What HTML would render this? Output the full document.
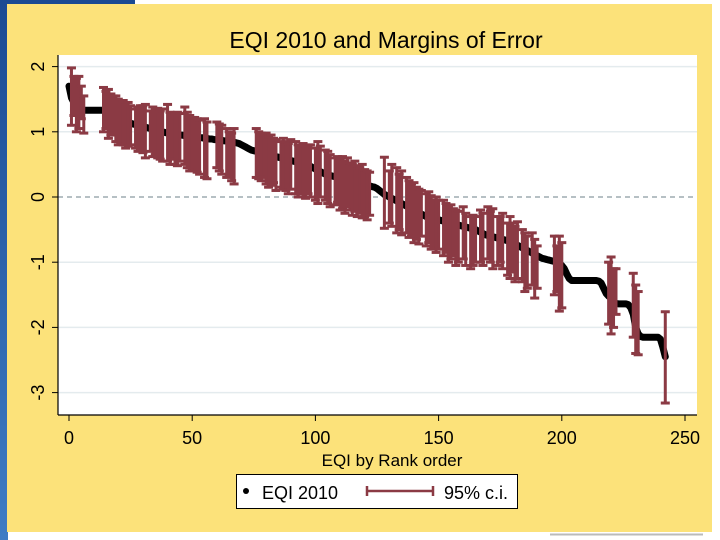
<!DOCTYPE html>
<html><head><meta charset="utf-8"><style>
html,body{margin:0;padding:0;background:#fff;width:720px;height:540px;overflow:hidden}
svg{display:block;font-family:"Liberation Sans",sans-serif}
</style></head><body>
<svg id="chart" width="720" height="540" viewBox="0 0 720 540">
<defs><linearGradient id="bl" x1="0" y1="0" x2="0" y2="1"><stop offset="0" stop-color="#1b4a93"/><stop offset="1" stop-color="#3f7cc4"/></linearGradient></defs>
<rect x="0" y="0" width="8" height="540" fill="url(#bl)"/>
<rect x="0" y="0" width="135" height="5" fill="#1b4a93"/>
<rect x="7" y="4" width="705" height="528" fill="#fce27a"/>
<line x1="550" y1="534.5" x2="703" y2="534.5" stroke="#bbb" stroke-width="2"/>
<rect x="58" y="55" width="639" height="360" fill="#fff"/>
<text x="386" y="48" font-size="23" text-anchor="middle" fill="#000">EQI 2010 and Margins of Error</text>
<g id="grid"></g><g id="line"></g><g id="ci"></g><g id="axes"></g>
<text x="392" y="466" font-size="17" text-anchor="middle">EQI by Rank order</text>
<g>
<rect x="236.5" y="474.5" width="281" height="34" fill="#fff" stroke="#000" stroke-width="1"/>
<circle cx="246" cy="491" r="3" fill="#000"/>
<text x="262" y="499" font-size="18">EQI 2010</text>
<g stroke="#8b3a44" stroke-width="2.5"><line x1="367" y1="491" x2="433" y2="491"/><line x1="367" y1="486" x2="367" y2="496"/><line x1="433" y1="486" x2="433" y2="496"/></g>
<text x="444" y="499" font-size="18">95% c.i.</text>
</g>
</svg>
<script>
const eqi = [
1.70,1.52,1.45,1.40,1.36,1.34,1.33,1.33,1.33,1.33,
1.33,1.33,1.33,1.33,1.33,1.33,1.33,1.32,1.30,1.27,
1.22,1.18,1.16,1.15,1.14,1.13,1.12,1.11,1.10,1.09,
1.08,1.07,1.06,1.05,1.04,1.03,1.02,1.01,1.00,0.99,
0.98,0.97,0.96,0.96,0.95,0.95,0.95,0.94,0.94,0.93,
0.93,0.92,0.92,0.91,0.91,0.90,0.90,0.89,0.89,0.88,
0.88,0.87,0.87,0.86,0.86,0.85,0.85,0.84,0.83,0.82,
0.80,0.78,0.76,0.74,0.72,0.71,0.70,0.69,0.68,0.67,
0.66,0.65,0.64,0.63,0.62,0.61,0.60,0.59,0.58,0.57,
0.56,0.55,0.54,0.53,0.52,0.51,0.50,0.49,0.47,0.45,
0.43,0.41,0.39,0.37,0.35,0.34,0.33,0.32,0.31,0.30,
0.29,0.28,0.27,0.26,0.25,0.24,0.23,0.22,0.21,0.20,
0.19,0.18,0.17,0.16,0.15,0.13,0.10,0.07,0.04,0.02,
0.00,-0.02,-0.04,-0.06,-0.08,-0.10,-0.12,-0.14,-0.16,-0.18,
-0.20,-0.22,-0.24,-0.26,-0.28,-0.30,-0.31,-0.32,-0.33,-0.34,
-0.35,-0.36,-0.37,-0.38,-0.39,-0.40,-0.41,-0.42,-0.43,-0.44,
-0.45,-0.46,-0.47,-0.48,-0.49,-0.50,-0.52,-0.54,-0.56,-0.58,
-0.59,-0.60,-0.61,-0.62,-0.63,-0.64,-0.65,-0.66,-0.67,-0.68,
-0.70,-0.72,-0.74,-0.76,-0.78,-0.80,-0.82,-0.84,-0.86,-0.88,
-0.90,-0.92,-0.94,-0.95,-0.96,-0.97,-0.98,-0.99,-1.00,-1.02,
-1.05,-1.10,-1.18,-1.25,-1.28,-1.28,-1.28,-1.28,-1.28,-1.28,
-1.28,-1.28,-1.28,-1.28,-1.28,-1.29,-1.32,-1.40,-1.48,-1.52,
-1.55,-1.60,-1.63,-1.64,-1.64,-1.64,-1.64,-1.65,-1.70,-1.80,
-2.00,-2.10,-2.14,-2.15,-2.15,-2.15,-2.15,-2.15,-2.15,-2.15,
-2.18,-2.30,-2.45];
const barRank = [1,2,3,4,5,6,14,15,16,17,18,19,20,21,22,23,24,25,27,28,29,30,31,33,34,35,36,37,38,40,41,42,43,44,45,47,48,49,50,51,52,53,55,56,60,61,62,64,65,66,67,76,77,78,79,80,81,82,83,84,86,87,88,89,90,92,93,94,95,96,97,98,100,101,102,104,105,106,108,109,110,111,112,113,114,115,116,117,118,119,120,121,122,128,130,131,133,134,135,137,138,139,140,141,142,143,145,146,147,148,149,150,152,153,154,155,156,157,158,160,161,163,164,165,167,168,170,171,172,174,175,176,178,179,180,181,182,184,185,186,188,189,190,197,198,199,200,219,220,221,222,229,230,231,242];
const barLo = [1.10,1.25,1.00,1.05,1.20,0.98,1.00,1.05,0.90,0.95,0.98,0.85,0.80,0.82,0.80,0.75,0.78,0.80,0.75,0.70,0.72,0.68,0.60,0.70,0.62,0.65,0.60,0.58,0.55,0.55,0.50,0.58,0.50,0.48,0.55,0.50,0.45,0.40,0.42,0.40,0.38,0.35,0.30,0.28,0.45,0.40,0.35,0.30,0.32,0.25,0.20,0.30,0.28,0.25,0.30,0.20,0.15,0.18,0.22,0.10,0.15,0.12,0.10,0.05,0.12,0.05,0.00,0.05,0.00,-0.02,0.05,0.00,-0.05,-0.10,0.00,-0.05,-0.10,-0.15,-0.12,-0.08,-0.20,-0.18,-0.25,-0.15,-0.20,-0.28,-0.22,-0.30,-0.25,-0.32,-0.30,-0.35,-0.28,-0.48,-0.40,-0.45,-0.55,-0.50,-0.58,-0.55,-0.62,-0.60,-0.70,-0.65,-0.72,-0.60,-0.75,-0.70,-0.80,-0.78,-0.85,-0.80,-0.90,-0.85,-1.00,-0.95,-0.90,-1.05,-1.00,-0.95,-1.05,-1.10,-1.05,-1.00,-1.00,-1.05,-0.95,-1.00,-1.10,-1.05,-1.00,-1.10,-1.20,-1.25,-1.15,-1.30,-1.25,-1.30,-1.45,-1.40,-1.35,-1.55,-1.40,-1.50,-1.45,-1.75,-1.70,-1.95,-2.10,-2.00,-1.80,-2.15,-2.40,-2.42,-3.16];
const barHi = [1.98,1.85,1.82,1.85,1.70,1.55,1.68,1.62,1.65,1.58,1.55,1.55,1.50,1.48,1.48,1.45,1.45,1.40,1.35,1.38,1.40,1.40,1.42,1.32,1.38,1.35,1.36,1.32,1.35,1.42,1.30,1.28,1.28,1.30,1.28,1.38,1.30,1.25,1.22,1.22,1.20,1.18,1.20,1.15,1.15,1.12,1.10,1.05,1.00,0.98,1.05,1.05,1.00,0.98,0.95,0.98,0.92,0.95,0.90,0.88,0.85,0.90,0.85,0.82,0.88,0.85,0.80,0.78,0.82,0.78,0.76,0.80,0.75,0.85,0.78,0.72,0.70,0.65,0.60,0.62,0.58,0.62,0.55,0.60,0.52,0.50,0.55,0.48,0.45,0.50,0.42,0.40,0.38,0.61,0.40,0.50,0.45,0.35,0.40,0.30,0.25,0.20,0.22,0.15,0.12,0.10,0.05,0.08,0.02,-0.05,0.00,-0.05,-0.05,-0.10,-0.15,-0.12,-0.18,-0.20,-0.22,-0.15,-0.25,-0.30,-0.28,-0.30,-0.20,-0.25,-0.15,-0.22,-0.18,-0.30,-0.30,-0.25,-0.40,-0.30,-0.40,-0.45,-0.38,-0.50,-0.55,-0.60,-0.55,-0.65,-0.75,-0.60,-0.75,-0.60,-0.70,-1.00,-0.92,-1.10,-1.10,-1.17,-1.35,-1.45,-1.76];
const xTicks = [0,50,100,150,200,250];
const yTicks = [2,1,0,-1,-2,-3];

const NS = 'http://www.w3.org/2000/svg';
const X = r => 69 + r * 2.464;
const Y = v => 197 - v * 65.2;
function mk(tag, attrs, parent){const e=document.createElementNS(NS,tag);for(const k in attrs)e.setAttribute(k,attrs[k]);parent.appendChild(e);return e;}
const grid=document.getElementById('grid'), ci=document.getElementById('ci'), ln=document.getElementById('line'), axes=document.getElementById('axes');

yTicks.forEach(t=>{
  const g = mk('line',{x1:58,x2:697,y1:Y(t),y2:Y(t),stroke:t===0?'#8a9aa0':'#e4ebee','stroke-width':t===0?1.2:1.5,'stroke-dasharray':t===0?'5,4':'none'},grid);
  
  
  const tk = mk('line',{x1:52,x2:58,y1:Y(t),y2:Y(t),stroke:'#000','stroke-width':1},axes);
  
  
  const lb = mk('text',{x:0,y:0,'font-size':18,'text-anchor':'middle',transform:`translate(44,${Y(t)}) rotate(-90)`},axes);
  lb.textContent = t;
  
  
});
xTicks.forEach(t=>{
  const tk = mk('line',{x1:X(t),x2:X(t),y1:415,y2:421,stroke:'#000','stroke-width':1},axes);
  
  
  const lb = mk('text',{x:X(t),y:444,'font-size':18,'text-anchor':'middle'},axes);
  lb.textContent = t;
  
  
});
const ya = mk('line',{x1:58,x2:58,y1:55,y2:415,stroke:'#000','stroke-width':1.2},axes);


const xa = mk('line',{x1:58,x2:697,y1:415,y2:415,stroke:'#000','stroke-width':1.2},axes);



const pts = eqi.map((v,i)=>X(i).toFixed(1)+','+Y(v).toFixed(1)).join(' ');
const pl = mk('polyline',{points:pts,fill:'none',stroke:'#000','stroke-width':7,'stroke-linejoin':'round','stroke-linecap':'round'},ln);



barRank.forEach((r,i)=>{
  const x=X(r), y1=Y(barHi[i]), y2=Y(barLo[i]);
  const g = mk('g',{stroke:'#8b3a44','stroke-width':3},ci);
  
  
  mk('line',{x1:x,x2:x,y1:y1,y2:y2},g);
  mk('line',{x1:x-4.5,x2:x+4.5,y1:y1,y2:y1},g);
  mk('line',{x1:x-4.5,x2:x+4.5,y1:y2,y2:y2},g);
});
</script>
</body></html>
